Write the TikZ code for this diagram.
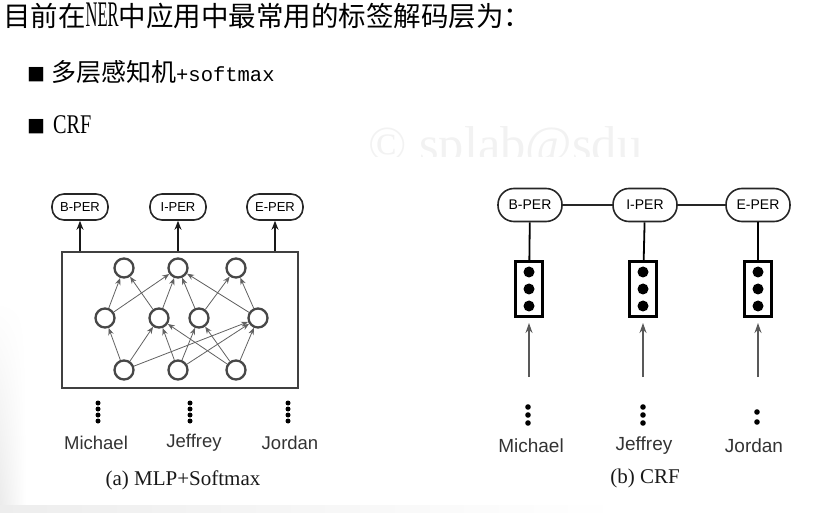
\documentclass[tikz,border=0pt]{standalone}
\usepackage{fontspec}
\setmainfont{Liberation Serif}
\setsansfont{Liberation Sans}
\setmonofont{Liberation Mono}
\newfontfamily\cjk{Noto Sans CJK SC}
\newcommand{\fsz}[1]{\fontsize{#1}{#1}\selectfont}
\usetikzlibrary{arrows.meta,shadings}

\begin{document}
\begin{tikzpicture}[x=1pt,y=-1pt,
  tag/.style={draw=black!85,line width=1.6pt,rounded corners=12pt,minimum width=56pt,minimum height=26pt,inner sep=1pt,font=\sffamily\fsz{13}},
  crftag/.style={tag,rounded corners=16pt,minimum width=64pt,minimum height=33pt,font=\sffamily\fsz{14}},
  unit/.style={circle,draw=black!72,line width=2.3pt,minimum size=19pt,inner sep=0pt},
  link/.style={-{Stealth[length=7pt,width=5.5pt]},black!62,line width=0.8pt},
  up/.style={-{Stealth[length=9pt,width=7pt]},black!90,line width=1.5pt},
  feed/.style={-{Stealth[length=10pt,width=7pt]},black!65,line width=1.3pt},
  word/.style={font=\sffamily\fsz{18.5},text=black!80},
  subcap/.style={font=\fsz{21},text=black!90},
  feat/.style={draw,line width=2.2pt,minimum width=27pt,minimum height=55pt,inner sep=0pt}]
\useasboundingbox (0,0) rectangle (828,513);
% nen xam o mep
\shade[upper left=white,lower left=black!8,upper right=white,lower right=white] (0,300) rectangle (26,513);
\shade[left color=black!7,right color=white] (0,505) rectangle (620,513);
% dong tieu de
\node[anchor=west,inner sep=0pt,font=\cjk\fsz{27.5}] (title) at (3,16)
  {目前在\scalebox{0.55}[1.2]{\rmfamily\fsz{30}NER}中应用中最常用的标签解码层为：};
\node[anchor=west,inner sep=0pt,font=\fsz{25}] (li1) at (27,72)
  {{\cjk\fsz{18}■}\hspace{6pt}{\cjk 多层感知机}{\ttfamily\fsz{20.5}+softmax}};
\node[anchor=west,inner sep=0pt,font=\fsz{27}] (li2) at (27,125)
  {{\cjk\fsz{18}■}\hspace{8pt}\scalebox{0.75}[1]{CRF}};
% watermark
\begin{scope}
\clip (300,100) rectangle (700,157);
\node[anchor=base west,inner sep=0pt,font=\fsz{50.5},text=black!5] (wm) at (368,162) {© splab@sdu};
\end{scope}

% (a) MLP + Softmax
\node[tag] (ta) at (80,207) {B-PER};
\node[tag] (tb) at (178,207) {I-PER};
\node[tag] (tc) at (275,207) {E-PER};
\node[draw=black!75,line width=1.8pt,minimum width=236pt,minimum height=136pt] (mlp) at (180,320) {};
\foreach \t in {ta,tb,tc}
  \draw[up] (mlp.north -| \t) -- (\t);
\foreach \x [count=\i] in {124,178,236} {
  \node[unit] (h\i) at (\x,268) {};
  \node[unit] (b\i) at (\x,370) {};
}
\foreach \x [count=\i] in {105,159,199,258}
  \node[unit] (m\i) at (\x,318) {};
\foreach \a/\b in {b1/m1,b1/m2,b1/m4,b2/m2,b2/m3,b2/m4,b3/m2,b3/m3,b3/m4}
  \draw[link] (\a) -- (\b);
\foreach \a/\b in {m1/h1,m1/h2,m2/h1,m2/h2,m3/h2,m3/h3,m4/h2,m4/h3}
  \draw[link] (\a) -- (\b);
\foreach \x in {98,190,288}
  \foreach \y in {403,409,415,421}
    \fill (\x,\y) circle (2.5pt);
\node[word] (wa) at (96,443) {Michael};
\node[word] (wb) at (194,443) {Jeffrey};
\node[word] (wc) at (290,443) {Jordan};
\node[subcap] (capa) at (183,480) {(a) MLP+Softmax};

% (b) CRF
\node[crftag] (ca) at (530,205) {B-PER};
\node[crftag] (cb) at (645,205) {I-PER};
\node[crftag] (cc) at (758,205) {E-PER};
\draw[black!85,line width=1.4pt] (ca) -- (cb) -- (cc);
\foreach \x/\n in {529/fa,643/fb,758/fc} {
  \node[feat] (\n) at (\x,289) {};
  \foreach \y in {272,289,306}
    \fill (\x,\y) circle (5.5pt);
  \coordinate (\n-in) at (\x,377);
  \coordinate (\n-to) at (\x,323);
  \draw[feed] (\n-in) -- (\n-to);
}
\draw[line width=1.8pt] (ca) -- (fa);
\draw[line width=1.8pt] (cb) -- (fb);
\draw[line width=1.8pt] (cc) -- (fc);
\foreach \x in {528,643}
  \foreach \y in {407,415,423}
    \fill (\x,\y) circle (2.8pt);
\foreach \y in {412,422}
  \fill (757,\y) circle (2.8pt);
\node[word,font=\sffamily\fsz{19}] (wd) at (531,446) {Michael};
\node[word,font=\sffamily\fsz{19}] (we) at (644,446) {Jeffrey};
\node[word,font=\sffamily\fsz{19}] (wf) at (754,446) {Jordan};
\node[subcap] (capb) at (645,478) {(b) CRF};
\end{tikzpicture}
\end{document}
